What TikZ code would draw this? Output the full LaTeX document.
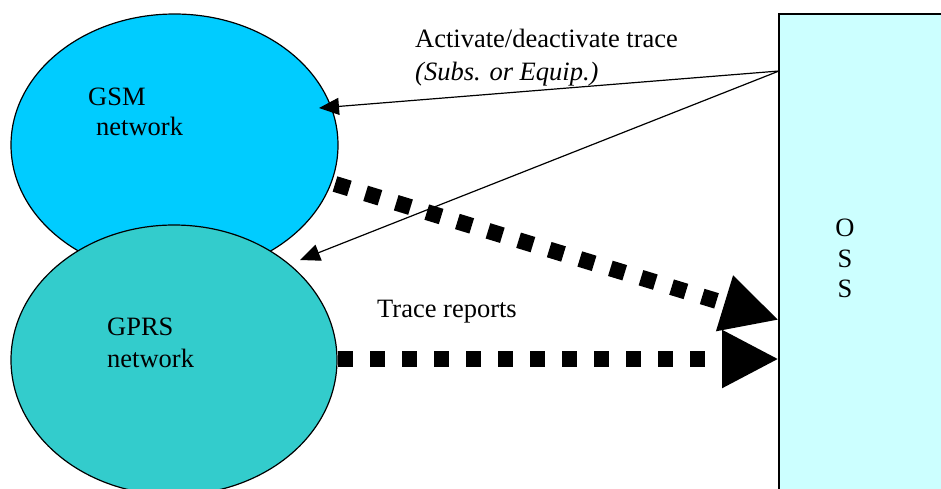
\documentclass[tikz,border=0pt]{standalone}
\usepackage{fontspec}
\setmainfont{Liberation Serif}
\usetikzlibrary{arrows.meta,shapes.geometric}
\definecolor{gsmblue}{HTML}{00CCFF}
\definecolor{gprsteal}{HTML}{33CCCC}
\definecolor{osscyan}{HTML}{CCFFFF}
\begin{document}
\begin{tikzpicture}[x=1pt,y=-1pt,
  net/.style={ellipse, draw=black, line width=1.2pt, inner sep=0pt},
  lbl/.style={inner sep=0pt, anchor=base west, font=\fontsize{26.5}{32}\selectfont},
  thin/.style={line width=1.2pt, -{Triangle[length=20pt,width=17pt]}},
  report/.style={line width=16pt, dash pattern=on 15pt off 17pt,
    -{Triangle[length=57pt,width=54pt]}}]
\useasboundingbox (0,0) rectangle (941,488);
\fill[white] (0,0) rectangle (941,488);
% nodes
\node[net, fill=gsmblue, minimum width=327pt, minimum height=262pt] (gsm) at (174.5,145) {};
\node[net, fill=gprsteal, minimum width=326pt, minimum height=270pt] (gprs) at (174,360) {};
\draw[line width=1.2pt, fill=osscyan] (779,14) rectangle (960,510);
\node[inner sep=0pt, minimum width=181pt, minimum height=496pt, anchor=north west] (oss) at (779,14) {};
% texts
\node[lbl] (gsmA) at (88,105) {GSM};
\node[lbl] (gsmB) at (96,135) {network};
\node[lbl] (gprsA) at (107,335) {GPRS};
\node[lbl] (gprsB) at (107,367) {network};
\node[lbl] (act) at (415,47) {Activate/deactivate trace};
\node[lbl] (subs) at (415,80) {\itshape (Subs. or Equip.)};
\node[lbl] (trace) at (377,317) {Trace reports};
\node[lbl, anchor=base] (o1) at (845,236) {O};
\node[lbl, anchor=base] (o2) at (845,267) {S};
\node[lbl, anchor=base] (o3) at (845,297) {S};
% connector end points
\coordinate (ossA) at (779,71);
\coordinate (gsmIn) at (319,108);
\coordinate (gprsIn) at (300,260);
\coordinate (gsmOut) at (335,184);
\coordinate (ossB) at (779,320);
\coordinate (gprsOut) at (338,359);
\coordinate (ossC) at (779,359);
% connectors
\draw[thin] (ossA) -- (gsmIn);
\draw[thin] (ossA) -- (gprsIn);
\draw[report] (gsmOut) -- (ossB);
\draw[report] (gprsOut) -- (ossC);
\end{tikzpicture}
\end{document}
